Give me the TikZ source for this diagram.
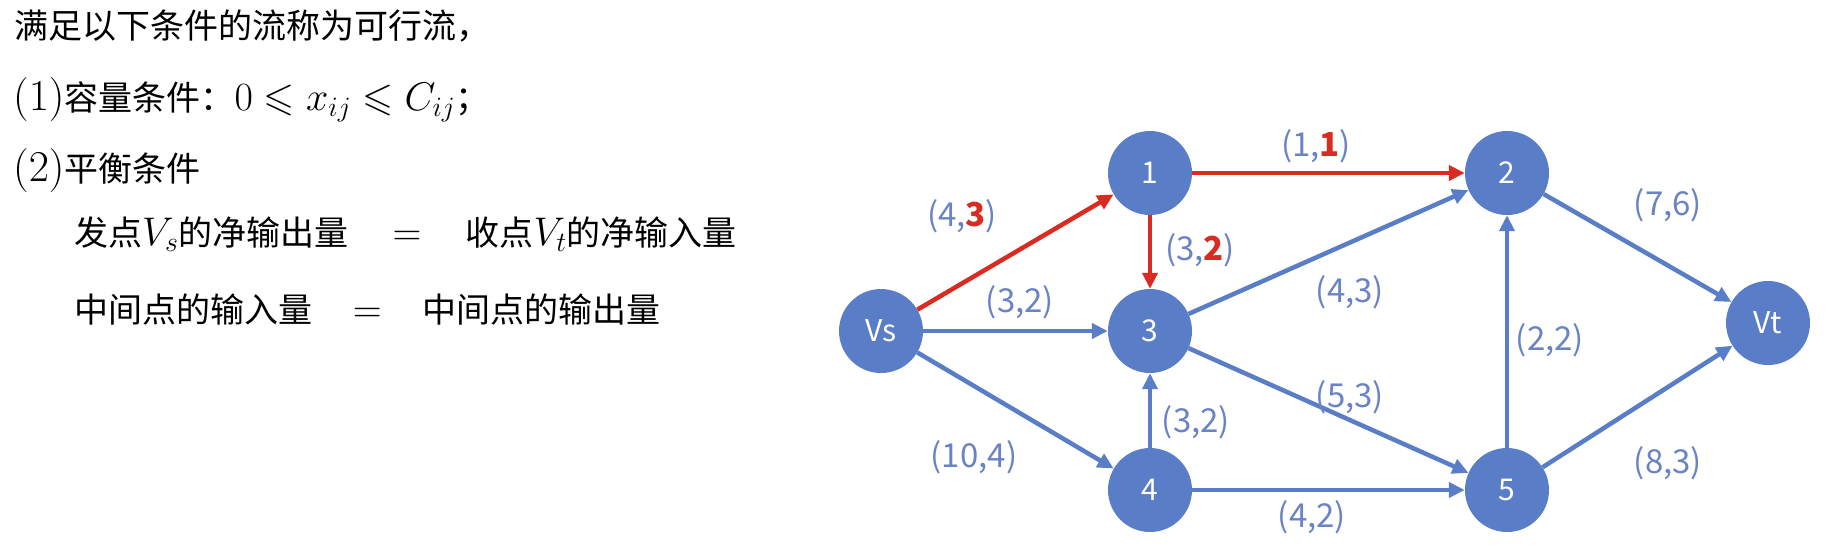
\RequirePackage{fix-cm}
\documentclass[tikz,border=0pt]{standalone}
\usepackage{amssymb,amsmath}
\usepackage[no-math]{fontspec}
\usepackage{tikz}
\usetikzlibrary{arrows.meta,positioning}
\newfontfamily\cjk{Noto Sans CJK SC}
\newfontfamily\lblfont{Noto Sans CJK SC}
\DeclareMathSizes{34}{40}{28}{20}
\newcommand{\bigrm}[2][1.1]{\scalebox{#1}{$#2$}}
\definecolor{NodeBlue}{HTML}{5A7DC8}
\definecolor{EdgeBlue}{HTML}{5A7DC8}
\definecolor{LabelBlue}{HTML}{6A83C4}
\definecolor{FlowRed}{HTML}{DA2B22}

\begin{document}
\begin{tikzpicture}[
          x=1pt, y=-1pt,
          on grid,
          vertex/.style={circle, fill=NodeBlue, minimum size=84pt, inner sep=0pt, text=white, font=\lblfont\fontsize{30}{30}\selectfont},
          txt/.style={anchor=base west, inner sep=0pt, font=\fontsize{34}{34}\selectfont},
          lbl/.style={inner sep=0pt, text=LabelBlue, font=\lblfont\fontsize{33}{33}\selectfont},
          arrow/.style={-{Triangle[length=16pt, width=15pt]}, line width=4.5pt, EdgeBlue},
          flowarrow/.style={-{Triangle[length=16pt, width=15pt]}, line width=4.5pt, FlowRed}
        ]
          \useasboundingbox (0,0) rectangle (1840,550);

          % Conditions (text on the left)
          \node[txt] (t1) at (14,38) {\cjk 满足以下条件的流称为可行流，};
          \node[txt] (t2) at (13,110) {\bigrm{(1)}\cjk 容量条件：$0\leqslant x_{ij}\leqslant C_{ij}$；};
          \node[txt] (t3) at (13,181) {\bigrm{(2)}\cjk 平衡条件};
          \node[txt] (t4) at (74,245) {\cjk 发点$V_s$的净输出量\hspace{1.3em}$=$\hspace{1.3em}收点$V_t$的净输入量};
          \node[txt] (t5) at (74,322) {\cjk 中间点的输入量\hspace{1.2em}$=$\hspace{1.2em}中间点的输出量};

          % Vertices
          \node[vertex] (vs) at (881,331) {Vs};
          \node[vertex, above right=158pt and 269pt of vs] (n1) {1};
          \node[vertex, right=269pt of vs] (n3) {3};
          \node[vertex, below right=159pt and 269pt of vs] (n4) {4};
          \node[vertex, right=357pt of n1] (n2) {2};
          \node[vertex, right=357pt of n4] (n5) {5};
          \node[vertex, below right=150pt and 261pt of n2] (vt) {Vt};

          % Arcs - flow path in red
          \draw[flowarrow] (vs) -- (n1);
          \draw[flowarrow] (n1) -- (n2);
          \draw[flowarrow] (n1) -- (n3);

          % Arcs - the others
          \draw[arrow] (vs) -- (n3);
          \draw[arrow] (vs) -- (n4);
          \draw[arrow] (n3) -- (n2);
          \draw[arrow] (n3) -- (n5);
          \draw[arrow] (n4) -- (n3);
          \draw[arrow] (n4) -- (n5);
          \draw[arrow] (n5) -- (n2);
          \draw[arrow] (n2) -- (vt);
          \draw[arrow] (n5) -- (vt);

          % Arc labels (capacity, flow)
          \node[lbl] (l01) at (962,216) {(4,{\color{FlowRed}\bfseries 3})};
          \node[lbl] (l12) at (1316,146) {(1,{\color{FlowRed}\bfseries 1})};
          \node[lbl] (l13) at (1200,250) {(3,{\color{FlowRed}\bfseries 2})};
          \node[lbl] (l03) at (1020,302) {(3,2)};
          \node[lbl] (l32) at (1350,292) {(4,3)};
          \node[lbl] (l35) at (1350,397) {(5,3)};
          \node[lbl] (l43) at (1196,422) {(3,2)};
          \node[lbl] (l04) at (974,457) {(10,4)};
          \node[lbl] (l45) at (1312,517) {(4,2)};
          \node[lbl] (l2t) at (1668,205) {(7,6)};
          \node[lbl] (l52) at (1550,340) {(2,2)};
          \node[lbl] (l5t) at (1668,463) {(8,3)};
        \end{tikzpicture}
\end{document}
